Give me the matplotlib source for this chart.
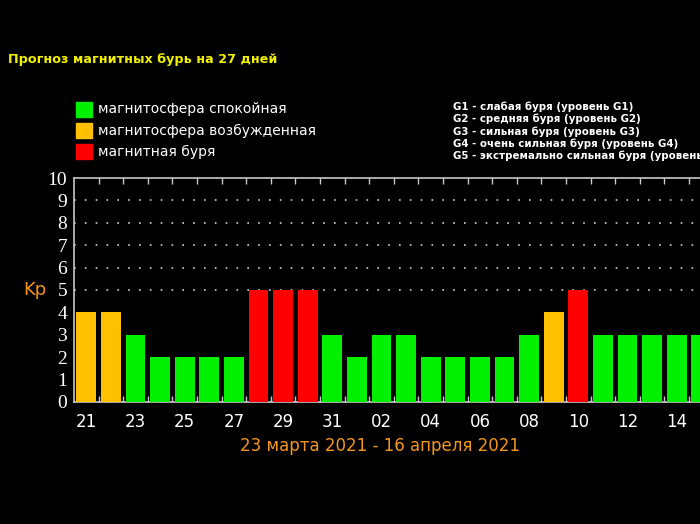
import matplotlib
matplotlib.use("Agg")
import matplotlib.pyplot as plt
from matplotlib.patches import Rectangle
from matplotlib.ticker import FixedLocator

# ---- data ----
days = ["21", "22", "23", "24", "25", "26", "27", "28", "29", "30", "31",
        "01", "02", "03", "04", "05", "06", "07", "08", "09", "10",
        "11", "12", "13", "14", "15"]
kp = [4, 4, 3, 2, 2, 2, 2, 5, 5, 5, 3,
      2, 3, 3, 2, 2, 2, 2, 3, 4, 5,
      3, 3, 3, 3, 3]
state = ["o", "o", "g", "g", "g", "g", "g", "r", "r", "r", "g",
         "g", "g", "g", "g", "g", "g", "g", "g", "o", "r",
         "g", "g", "g", "g", "g"]
state_colors = {"g": "#00f000", "o": "#ffc000", "r": "#ff0000"}
legend_labels = ["магнитосфера спокойная", "магнитосфера возбужденная", "магнитная буря"]
legend_keys = ["g", "o", "r"]
g_levels = ["G1 - слабая буря (уровень G1)",
            "G2 - средняя буря (уровень G2)",
            "G3 - сильная буря (уровень G3)",
            "G4 - очень сильная буря (уровень G4)",
            "G5 - экстремально сильная буря (уровень G5)"]
title = "Прогноз магнитных бурь на 27 дней"
period = "23 марта 2021 - 16 апреля 2021"
n_slots = 27

W, H = 700, 524
fig = plt.figure(figsize=(W / 100, H / 100), dpi=100, facecolor="black")

def fx(px):
    return px / W

def fy(py):
    return 1 - py / H

ax = fig.add_axes([fx(74), fy(402), (n_slots * 24.6) / W, (402 - 178) / H])
ax.set_facecolor("black")

x = list(range(len(kp)))
ax.bar(x, kp, width=0.8, color=[state_colors[s] for s in state], zorder=3)
ax.set_xlim(-0.5, n_slots - 0.5)
ax.set_ylim(0, 10)

# dotted grid lines
for lvl in [5, 6, 7, 8, 9]:
    ax.axhline(lvl, color="#d0d0d0", lw=1.2, ls=(0, (1, 5.5)), zorder=1)

# spines
for side in ["left", "top", "bottom"]:
    ax.spines[side].set_color("#c8c8c8")
    ax.spines[side].set_linewidth(1.2)
ax.spines["right"].set_visible(False)

# y ticks
ax.set_yticks(range(0, 11))
ax.set_yticklabels([str(v) for v in range(0, 11)], family="Liberation Serif",
                   fontsize=14, color="white")
ax.tick_params(axis="y", length=0, pad=5)

# x ticks: labels at every other day, marks at slot boundaries
ax.set_xticks(x[::2])
ax.set_xticklabels(days[::2], fontsize=12, color="white")
ax.tick_params(axis="x", which="major", length=0, pad=8)
ax.xaxis.set_minor_locator(FixedLocator([i + 0.5 for i in range(n_slots)]))
ax.tick_params(axis="x", which="minor", direction="in", length=4, width=1,
               color="#c8c8c8", top=True, bottom=True)

# Kp label
fig.text(fx(35), fy(290), "Kp", color="#f5961c", fontsize=13,
         ha="center", va="center")

# title
fig.text(fx(8), fy(60), title, color="#f0f000", fontsize=9.2, fontweight="bold",
         ha="left", va="center")

# state legend
box_y = [102, 123, 144]
for key, lab, by in zip(legend_keys, legend_labels, box_y):
    fig.patches.append(Rectangle((fx(76), fy(by + 15)), 16 / W, 15 / H,
                                 transform=fig.transFigure, color=state_colors[key]))
    fig.text(fx(98), fy(by + 7.5), lab, color="white", fontsize=10,
             ha="left", va="center")

# G levels legend
for i, t in enumerate(g_levels):
    fig.text(fx(453), fy(107 + 12.2 * i), t, color="white", fontsize=7.4,
             fontweight="bold", ha="left", va="center")

# period
fig.text(fx(380), fy(446), period, color="#f5961c", fontsize=12,
         ha="center", va="center")

fig.savefig("out.png", dpi=100, facecolor="black")
